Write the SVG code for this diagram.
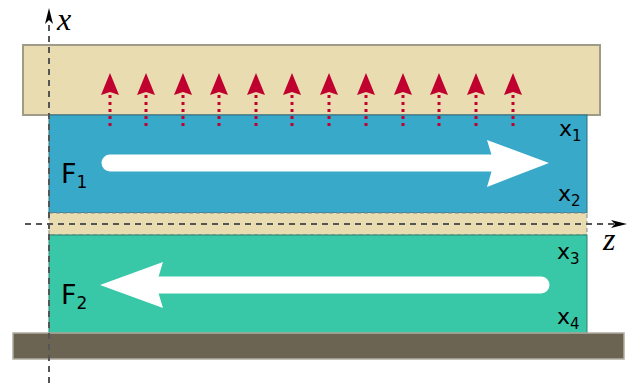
<svg xmlns="http://www.w3.org/2000/svg" width="632" height="383" viewBox="0 0 632 383">
<style>
.lbl{font-family:"DejaVu Sans","Liberation Sans",sans-serif;fill:#000}
.ax{stroke:#555;stroke-width:2;stroke-dasharray:6,5;fill:none}
.red{stroke:#c0002e;stroke-width:3;stroke-dasharray:3,4;fill:none}
.axl{font-family:"Liberation Serif","DejaVu Serif",serif;font-style:italic;font-size:32px}
</style>
<defs>
<path id="rh" d="M0,0L-9,22L0,19L9,22Z" fill="#c0002e"/>
</defs>
<g id="top-slab"><rect x="23" y="45" width="577" height="70" fill="#e8dcb0" stroke="#a09a88" stroke-width="2"/></g>
<g id="layer-F1"><rect x="49" y="115" width="538" height="98" fill="#38a9c8" stroke="#2f6f80" stroke-width="1"/></g>
<g id="spacer"><rect x="49" y="213" width="538" height="22" fill="#e8dcb0" stroke="#888" stroke-width="1" stroke-dasharray="4,3"/></g>
<g id="layer-F2"><rect x="49" y="235" width="538" height="98" fill="#38c8a8" stroke="#2f8070" stroke-width="1"/></g>
<g id="substrate"><rect x="13" y="333" width="611" height="26" fill="#6b6452" stroke="#b0aca0" stroke-width="1.5"/></g>
<g id="connectors">
<path class="ax" d="M49,383V12"/>
<path d="M49,8L45,24L49,20L53,24Z" fill="#000"/>
<path class="ax" d="M25,224H620"/>
<path d="M627,224L611,220L615,224L611,228Z" fill="#000"/>
<g id="red-arrows">
<path class="red" d="M110,95V128M146,95V128M183,95V128M219,95V128M256,95V128M292,95V128M329,95V128M366,95V128M403,95V128M439,95V128M476,95V128M513,95V128"/>
<use href="#rh" x="110" y="73"/><use href="#rh" x="146" y="73"/><use href="#rh" x="183" y="73"/><use href="#rh" x="219" y="73"/><use href="#rh" x="256" y="73"/><use href="#rh" x="292" y="73"/><use href="#rh" x="329" y="73"/><use href="#rh" x="366" y="73"/><use href="#rh" x="403" y="73"/><use href="#rh" x="439" y="73"/><use href="#rh" x="476" y="73"/><use href="#rh" x="513" y="73"/>
</g>
<g id="flow1">
<path d="M110,163H495" stroke="#fff" stroke-width="17" stroke-linecap="round" fill="none"/>
<path d="M549,163L487,140L494,163L487,187Z" fill="#fff"/>
</g>
<g id="flow2">
<path d="M541,285H155" stroke="#fff" stroke-width="17" stroke-linecap="round" fill="none"/>
<path d="M100,285L163,262L156,285L163,308Z" fill="#fff"/>
</g>
</g>
<text class="axl" x="57" y="30">x</text>
<text class="axl" x="603" y="250">z</text>
<text class="lbl" x="61" y="183" font-size="27">F<tspan font-size="17" dy="5">1</tspan></text>
<text class="lbl" x="61" y="304" font-size="27">F<tspan font-size="17" dy="5">2</tspan></text>
<text class="lbl" x="559" y="136" font-size="22">x<tspan font-size="15" dy="5">1</tspan></text>
<text class="lbl" x="558" y="201" font-size="22">x<tspan font-size="15" dy="5">2</tspan></text>
<text class="lbl" x="557" y="259" font-size="22">x<tspan font-size="15" dy="5">3</tspan></text>
<text class="lbl" x="557" y="324" font-size="22">x<tspan font-size="15" dy="5">4</tspan></text>
</svg>
